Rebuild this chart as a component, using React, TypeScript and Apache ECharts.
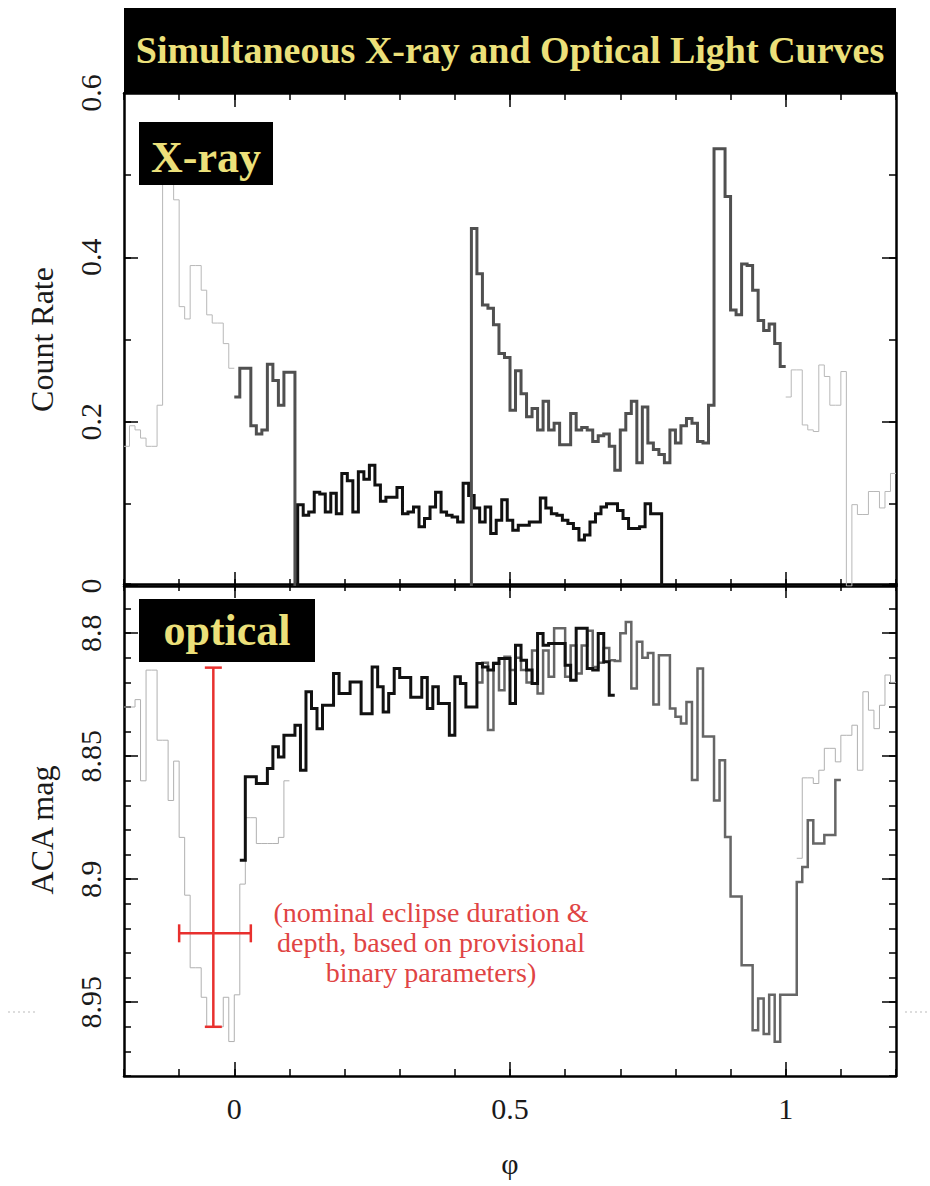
import React, { useEffect, useRef } from "react";
import * as echarts from "echarts";

// ---------------- data ----------------
const BIN_WIDTH = 0.01;

// X-ray count rate (top panel)
const xrayPrevCycleStart = -0.2;
const xrayPrevCycle = [0.17, 0.195, 0.19, 0.18, 0.17, 0.17, 0.22, 0.49, 0.49, 0.47, 0.34, 0.325, 0.39, 0.39, 0.36, 0.33, 0.32, 0.32, 0.295, 0.265];

const xrayCycleAStart = 0.0;
const xrayCycleA = [0.23, 0.265, 0.265, 0.195, 0.185, 0.19, 0.27, 0.25, 0.22, 0.26, 0.26];

const xrayBlackStart = 0.115;
const xrayBlack = [
  0.099, 0.086, 0.09, 0.114, 0.112, 0.09, 0.113, 0.088, 0.137, 0.128,
  0.09, 0.139, 0.13, 0.147, 0.123, 0.103, 0.108, 0.108, 0.12, 0.088,
  0.09, 0.096, 0.072, 0.082, 0.096, 0.114, 0.09, 0.086, 0.084, 0.078,
  0.125, 0.11, 0.095, 0.078, 0.096, 0.064, 0.08, 0.105, 0.08, 0.068,
  0.074, 0.074, 0.078, 0.078, 0.107, 0.095, 0.088, 0.086, 0.08, 0.076,
  0.07, 0.056, 0.062, 0.078, 0.088, 0.096, 0.1, 0.1, 0.092, 0.082,
  0.07, 0.07, 0.072, 0.1, 0.088, 0.088,
];

const xrayCycleBStart = 0.43;
const xrayCycleB = [
  0.435, 0.38, 0.342, 0.338, 0.318, 0.283, 0.278, 0.214, 0.262, 0.234,
  0.206, 0.216, 0.19, 0.225, 0.19, 0.198, 0.172, 0.172, 0.21, 0.19,
  0.193, 0.19, 0.176, 0.183, 0.185, 0.17, 0.141, 0.19, 0.21, 0.225,
  0.15, 0.218, 0.174, 0.166, 0.16, 0.15, 0.19, 0.174, 0.195, 0.204,
  0.198, 0.176, 0.174, 0.22, 0.532, 0.532, 0.474, 0.336, 0.33, 0.392,
  0.39, 0.36, 0.323, 0.311, 0.319, 0.295, 0.267,
];

const xrayNextCycleStart = 1.0;
const xrayNextCycle = [0.23, 0.263, 0.263, 0.196, 0.19, 0.188, 0.269, 0.255, 0.22, 0.22, 0.261, 0, 0.099, 0.087, 0.087, 0.115, 0.115, 0.095, 0.115, 0.137];

// Optical ACA magnitude (bottom panel)
const optPrevCycleStart = -0.2;
const optPrevCycle = [
  8.83, 8.83, 8.827, 8.86, 8.815, 8.815, 8.8435, 8.8435, 8.868, 8.852,
  8.883, 8.9065, 8.936, 8.936, 8.948, 8.96, 8.96, 8.96, 8.948, 8.966,
  8.947, 8.902, 8.875, 8.875, 8.8855, 8.8855, 8.8855, 8.8855, 8.883, 8.86,
];

const optBlackStart = 0.01;
const optBlack = [
  8.8923, 8.8584, 8.8584, 8.8611, 8.8611, 8.855, 8.8462, 8.8503, 8.8415, 8.8415,
  8.8374, 8.8557, 8.8238, 8.8306, 8.8388, 8.8293, 8.8293, 8.8164, 8.8245, 8.8245,
  8.8198, 8.8198, 8.8327, 8.8327, 8.8137, 8.8218, 8.832, 8.8245, 8.8143, 8.818,
  8.818, 8.826, 8.826, 8.818, 8.8306, 8.8218, 8.8286, 8.8286, 8.8415, 8.8177,
  8.8204, 8.83, 8.83, 8.8123, 8.8137, 8.815, 8.8123, 8.8103, 8.8103, 8.8286,
  8.8049, 8.811, 8.815, 8.8204, 8.8001, 8.8049, 8.8042, 8.8042, 8.8042, 8.813,
  8.8191, 8.798, 8.798, 8.8143, 8.815, 8.8001, 8.8116, 8.8252,
];

const optGrayStart = 0.44;
const optGray = [
  8.82, 8.812, 8.8394, 8.812, 8.8232, 8.8096, 8.815, 8.81, 8.815, 8.82,
  8.807, 8.8245, 8.807, 8.8177, 8.798, 8.798, 8.8177, 8.805, 8.8164, 8.805,
  8.799, 8.8137, 8.812, 8.806, 8.811, 8.8113, 8.8, 8.7954, 8.8225, 8.8035,
  8.81, 8.808, 8.829, 8.809, 8.809, 8.8306, 8.834, 8.8367, 8.828, 8.8597,
  8.8143, 8.842, 8.842, 8.868, 8.8516, 8.8828, 8.907, 8.907, 8.935, 8.935,
  8.9614, 8.9485, 8.9629, 8.947, 8.9661, 8.947, 8.947, 8.947, 8.9011, 8.895,
  8.876, 8.8855, 8.8855, 8.882, 8.882, 8.8597,
];

const optNextCycleStart = 1.02;
const optNextCycle = [8.8915, 8.8588, 8.8588, 8.8611, 8.8557, 8.8468, 8.8468, 8.8523, 8.8415, 8.8415, 8.8374, 8.8557, 8.8238, 8.8313, 8.8388, 8.8293, 8.817, 8.82];

// nominal eclipse duration & depth
const eclipseCenterPhase = -0.038;
const eclipsePhaseRange = [-0.1, 0.03];
const eclipseMagRange = [8.814, 8.96];
const eclipseMidMag = 8.922;

// axes
const phaseRange = [-0.2, 1.2];
const xMajorTicks = [0, 0.5, 1];
const rateRange = [0, 0.6];
const rateMajorTicks = [0, 0.2, 0.4, 0.6];
const magRange = [8.78, 8.98];
const magMajorTicks = [8.8, 8.85, 8.9, 8.95];

const TITLE = "Simultaneous X-ray and Optical Light Curves";
const NOTE = "(nominal eclipse duration &\ndepth, based on provisional\nbinary parameters)";

// ---------------- helpers ----------------
const FONT = '"Liberation Serif", "Times New Roman", Times, serif';
const frameLine = { show: true, onZero: false, lineStyle: { color: "#000", width: 2.5 } };
const hiddenLine = { show: false, onZero: false };
const tickStyle = { color: "#000", width: 1.5 };
const labelStyle = { fontFamily: FONT, fontSize: 30, color: "#1a1a1a" };
const nameStyle = { fontFamily: FONT, fontSize: 32, color: "#1a1a1a" };

function stepData(start: number, values: number[], riseFromZero = false, dropToZero = false) {
  const pts: number[][] = [];
  if (riseFromZero) pts.push([start, 0]);
  values.forEach((v, i) => pts.push([+(start + i * BIN_WIDTH).toFixed(4), v]));
  const end = +(start + values.length * BIN_WIDTH).toFixed(4);
  pts.push([end, values[values.length - 1]]);
  if (dropToZero) pts.push([end, 0]);
  return pts;
}

function stepSeries(name: string, axis: number, data: number[][], color: string, width: number, z: number) {
  return {
    type: "line",
    name,
    xAxisIndex: axis,
    yAxisIndex: axis,
    data,
    step: "end",
    showSymbol: false,
    symbol: "none",
    lineStyle: { color, width, join: "miter", cap: "butt" },
    z,
    silent: true,
  };
}

function xAxes(grid: number, withLabels: boolean) {
  const base = { type: "value", gridIndex: grid, min: phaseRange[0], max: phaseRange[1], splitLine: { show: false } };
  const minor = (position: string) => ({
    ...base,
    position,
    interval: 0.1,
    axisLine: frameLine,
    axisTick: { show: true, inside: true, length: 7, lineStyle: tickStyle },
    axisLabel: { show: false },
  });
  const major = (position: string, labels: boolean) => ({
    ...base,
    position,
    axisLine: hiddenLine,
    axisTick: { show: true, inside: true, length: 14, customValues: xMajorTicks, lineStyle: tickStyle },
    axisLabel: labels ? { show: true, customValues: xMajorTicks, margin: 17, ...labelStyle } : { show: false },
    ...(labels ? { name: "φ", nameLocation: "middle", nameGap: 72, nameTextStyle: { ...nameStyle, fontSize: 30 } } : {}),
  });
  return [minor("bottom"), major("bottom", withLabels), minor("top"), major("top", false)];
}

function yAxes(grid: number, range: number[], minorStep: number, majors: number[], inverse: boolean, name: string) {
  const base = { type: "value", gridIndex: grid, min: range[0], max: range[1], inverse, splitLine: { show: false } };
  const minor = (position: string) => ({
    ...base,
    position,
    interval: minorStep,
    axisLine: frameLine,
    axisTick: { show: true, inside: true, length: 7, lineStyle: tickStyle },
    axisLabel: { show: false },
  });
  const major = (position: string, labels: boolean) => ({
    ...base,
    position,
    axisLine: hiddenLine,
    axisTick: { show: true, inside: true, length: 14, customValues: majors, lineStyle: tickStyle },
    axisLabel: labels ? { show: true, customValues: majors, rotate: 90, margin: 19, ...labelStyle } : { show: false },
    ...(labels ? { name, nameLocation: "middle", nameRotate: 90, nameGap: 66, nameTextStyle: nameStyle } : {}),
  });
  return [minor("left"), major("left", true), minor("right"), major("right", false)];
}

export default function App() {
  const ref = useRef<HTMLDivElement>(null);

  useEffect(() => {
    if (!ref.current) return;
    const chart = echarts.init(ref.current, undefined, { renderer: "svg" });
    const red = "#e8302e";

    const option: any = {
      animation: false,
      backgroundColor: "#fff",
      grid: [
        { left: 124, top: 93, width: 772, height: 493, outerBoundsMode: "none", containLabel: false },
        { left: 124, top: 584, width: 772, height: 492, outerBoundsMode: "none", containLabel: false },
      ],
      xAxis: [...xAxes(0, false), ...xAxes(1, true)],
      yAxis: [
        ...yAxes(0, rateRange, 0.1, rateMajorTicks, false, "Count Rate"),
        ...yAxes(1, magRange, 0.01, magMajorTicks, true, "ACA mag"),
      ],
      series: [
        stepSeries("X-ray previous cycle", 0, stepData(xrayPrevCycleStart, xrayPrevCycle), "#b8b8b8", 1, 2),
        stepSeries("X-ray next cycle", 0, stepData(xrayNextCycleStart, xrayNextCycle), "#b8b8b8", 1, 2),
        stepSeries("X-ray cycle A", 0, stepData(xrayCycleAStart, xrayCycleA, false, true), "#505050", 3, 3),
        stepSeries("X-ray black", 0, stepData(xrayBlackStart, xrayBlack, true, true), "#111", 3, 4),
        stepSeries("X-ray cycle B", 0, stepData(xrayCycleBStart, xrayCycleB, true, false), "#505050", 3, 5),

        stepSeries("optical previous cycle", 4, stepData(optPrevCycleStart, optPrevCycle), "#b0b0b0", 1, 2),
        stepSeries("optical next cycle", 4, stepData(optNextCycleStart, optNextCycle), "#b0b0b0", 1, 2),
        stepSeries("optical gray", 4, stepData(optGrayStart, optGray), "#666", 2.5, 3),
        stepSeries("optical black", 4, stepData(optBlackStart, optBlack), "#111", 3, 4),
        {
          type: "line",
          name: "eclipse depth",
          xAxisIndex: 4,
          yAxisIndex: 4,
          data: [
            [eclipseCenterPhase, eclipseMagRange[0]],
            [eclipseCenterPhase, eclipseMagRange[1]],
          ],
          symbol: "rect",
          symbolSize: [17, 2.5],
          showSymbol: true,
          lineStyle: { color: red, width: 2.5 },
          itemStyle: { color: red },
          z: 10,
          silent: true,
        },
        {
          type: "line",
          name: "eclipse duration",
          xAxisIndex: 4,
          yAxisIndex: 4,
          data: [
            [eclipsePhaseRange[0], eclipseMidMag],
            [eclipsePhaseRange[1], eclipseMidMag],
          ],
          symbol: "rect",
          symbolSize: [2.5, 18],
          showSymbol: true,
          lineStyle: { color: red, width: 2.5 },
          itemStyle: { color: red },
          z: 10,
          silent: true,
        },
      ],
      graphic: [
        { type: "rect", z: 100, shape: { x: 124, y: 8, width: 772, height: 86 }, style: { fill: "#000" } },
        {
          type: "text",
          z: 101,
          x: 510,
          y: 50,
          style: { text: TITLE, fill: "#ece07a", font: `bold 38px ${FONT}`, textAlign: "center", textVerticalAlign: "middle" },
        },
        { type: "rect", z: 100, shape: { x: 139, y: 122, width: 134, height: 63 }, style: { fill: "#000" } },
        {
          type: "text",
          z: 101,
          x: 206,
          y: 157,
          style: { text: "X-ray", fill: "#ece07a", font: `bold 44px ${FONT}`, textAlign: "center", textVerticalAlign: "middle" },
        },
        { type: "rect", z: 100, shape: { x: 139, y: 599, width: 176, height: 63 }, style: { fill: "#000" } },
        {
          type: "text",
          z: 101,
          x: 227,
          y: 630,
          style: { text: "optical", fill: "#ece07a", font: `bold 44px ${FONT}`, textAlign: "center", textVerticalAlign: "middle" },
        },
        {
          type: "text",
          z: 101,
          x: 431,
          y: 897,
          style: {
            text: NOTE,
            fill: "#e04444",
            font: `28px ${FONT}`,
            lineHeight: 30,
            textAlign: "center",
            textVerticalAlign: "top",
          },
        },
        { type: "line", z: 1, shape: { x1: 8, y1: 1012, x2: 35, y2: 1012 }, style: { stroke: "#bbb", lineWidth: 1, lineDash: [2, 3] } },
        { type: "line", z: 1, shape: { x1: 905, y1: 1012, x2: 928, y2: 1012 }, style: { stroke: "#bbb", lineWidth: 1, lineDash: [2, 3] } },
      ],
    };

    chart.setOption(option);
    return () => chart.dispose();
  }, []);

  return (
    <div
      ref={ref}
      style={{ position: "fixed", left: 0, top: 0, width: 930, height: 1186, background: "#fff" }}
    />
  );
}
